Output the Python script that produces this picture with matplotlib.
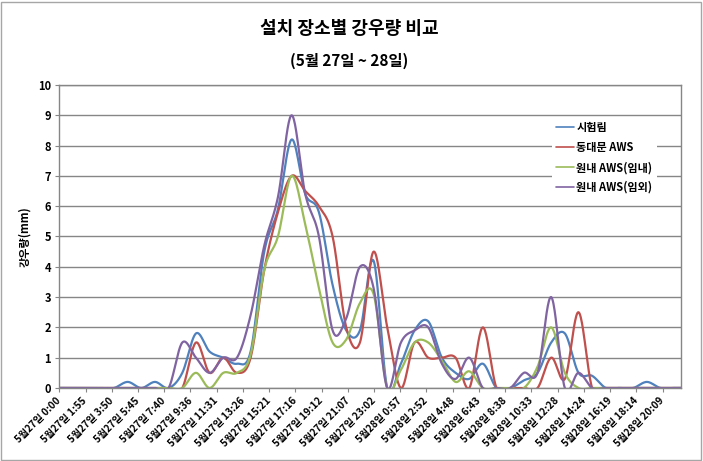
import numpy as np
import matplotlib
matplotlib.use("Agg")
import matplotlib.pyplot as plt
from matplotlib.patches import Rectangle

plt.rcParams["font.family"] = ["Noto Sans CJK KR", "DejaVu Sans"]

# ── data (hourly rainfall, mm) ──
hours = np.arange(47)

series_names = ["시험림", "동대문 AWS", "원내 AWS(임내)", "원내 AWS(임외)"]
series_colors = ["#4F81BD", "#C0504D", "#9BBB59", "#8064A2"]

rain_forest = [0, 0, 0, 0, 0, 0.2, 0, 0.2, 0, 0.5,
               1.8, 1.2, 1.0, 0.8, 1.2, 4.5, 5.9, 8.2, 6.4, 5.8,
               3.4, 1.9, 1.9, 4.2, 0, 0.8, 1.9, 2.2, 1.0, 0.5,
               0.3, 0.8, 0, 0, 0.25, 0.5, 1.5, 1.8, 0.5, 0.4,
               0, 0, 0, 0.2, 0, 0, 0]
rain_dongdaemun = [0, 0, 0, 0, 0, 0, 0, 0, 0, 0,
                   1.5, 0.5, 1.0, 0.5, 1.0, 3.9, 5.8, 7.0, 6.5, 6.0,
                   5.0, 2.0, 1.5, 4.5, 2.0, 0, 1.5, 1.0, 1.0, 1.0,
                   0, 2.0, 0, 0, 0, 0, 1.0, 0.3, 2.5, 0,
                   0, 0, 0, 0, 0, 0, 0]
rain_inner = [0, 0, 0, 0, 0, 0, 0, 0, 0, 0,
              0.5, 0, 0.5, 0.5, 1.1, 3.9, 5.0, 7.0, 5.4, 3.3,
              1.5, 1.6, 2.8, 3.1, 0, 0.6, 1.5, 1.5, 0.9, 0.2,
              0.55, 0, 0, 0, 0, 0.7, 2.0, 0.5, 0, 0,
              0, 0, 0, 0, 0, 0, 0]
rain_outer = [0, 0, 0, 0, 0, 0, 0, 0, 0, 1.5,
              1.0, 0.5, 1.0, 1.0, 2.4, 4.7, 6.3, 9.0, 6.4, 5.0,
              1.9, 2.3, 4.0, 3.3, 0, 1.5, 1.9, 2.0, 0.8, 0.3,
              1.0, 0, 0, 0, 0.5, 0.5, 3.0, 0, 0.5, 0,
              0, 0, 0, 0, 0, 0, 0]

tick_labels = ["5월27일 0:00", "5월27일 1:55", "5월27일 3:50", "5월27일 5:45",
               "5월27일 7:40", "5월27일 9:36", "5월27일 11:31", "5월27일 13:26",
               "5월27일 15:21", "5월27일 17:16", "5월27일 19:12", "5월27일 21:07",
               "5월27일 23:02", "5월28일 0:57", "5월28일 2:52", "5월28일 4:48",
               "5월28일 6:43", "5월28일 8:38", "5월28일 10:33", "5월28일 12:28",
               "5월28일 14:24", "5월28일 16:19", "5월28일 18:14", "5월28일 20:09"]


def label_to_hours(lbl):
    day_part, time_part = lbl.split(" ")
    day = int(day_part.split("월")[1].replace("일", ""))
    hh, mm = time_part.split(":")
    return (day - 27) * 24 + int(hh) + int(mm) / 60.0


def smooth_line(x, y, n=24):
    # Excel-like smoothed line (Catmull-Rom bezier)
    x = np.asarray(x, float)
    y = np.asarray(y, float)
    px = np.concatenate([[x[0]], x, [x[-1]]])
    py = np.concatenate([[y[0]], y, [y[-1]]])
    t = np.linspace(0, 1, n, endpoint=False)
    xs, ys = [], []
    for i in range(1, len(px) - 2):
        x0, x1, x2, x3 = px[i - 1], px[i], px[i + 1], px[i + 2]
        y0, y1, y2, y3 = py[i - 1], py[i], py[i + 1], py[i + 2]
        cx1, cy1 = x1 + (x2 - x0) / 6, y1 + (y2 - y0) / 6
        cx2, cy2 = x2 - (x3 - x1) / 6, y2 - (y3 - y1) / 6
        b0 = (1 - t) ** 3
        b1 = 3 * (1 - t) ** 2 * t
        b2 = 3 * (1 - t) * t ** 2
        b3 = t ** 3
        xs.append(b0 * x1 + b1 * cx1 + b2 * cx2 + b3 * x2)
        ys.append(b0 * y1 + b1 * cy1 + b2 * cy2 + b3 * y2)
    xs.append([x[-1]])
    ys.append([y[-1]])
    return np.concatenate(xs), np.concatenate(ys)


fig = plt.figure(figsize=(7.03, 4.61), dpi=100)
ax = fig.add_axes([0.0844, 0.1584, 0.8843, 0.6572])

grid_col = "#868686"
all_series = [rain_forest, rain_dongdaemun, rain_inner, rain_outer]
for name, vals, col in zip(series_names, all_series, series_colors):
    sx, sy = smooth_line(hours, vals)
    ax.plot(sx, sy, color=col, lw=1.6, label=name, solid_capstyle="round")

ax.set_xlim(0, 45.5)
ax.set_ylim(0, 10)
ax.set_yticks(range(0, 11))
ax.tick_params(axis="y", labelsize=8, length=3, color=grid_col, pad=3)
for lb in ax.get_yticklabels():
    lb.set_fontweight("bold")

tick_pos = [label_to_hours(l) for l in tick_labels]
ax.set_xticks(tick_pos)
ax.set_xticklabels(tick_labels, rotation=45, ha="right", va="center",
                   rotation_mode="anchor", fontsize=7.2, fontweight="bold")
ax.tick_params(axis="x", length=3, color=grid_col, pad=5)

ax.yaxis.grid(True, color=grid_col, lw=1)
ax.set_axisbelow(True)
for sp in ax.spines.values():
    sp.set_color(grid_col)
    sp.set_linewidth(1)

ax.set_ylabel("강우량(mm)", fontsize=8, fontweight="bold", labelpad=5)

leg = ax.legend(loc="upper left", bbox_to_anchor=(0.7925, 0.895), fontsize=8,
                frameon=True, handlelength=1.6, handletextpad=0.2,
                labelspacing=0.62, borderpad=0.4, borderaxespad=0)
leg.get_frame().set_facecolor("white")
leg.get_frame().set_edgecolor("none")
leg.get_frame().set_alpha(1)
for t in leg.get_texts():
    t.set_fontweight("bold")
for h in leg.get_lines():
    h.set_linewidth(1.2)

fig.text(0.497, 1 - 28.5 / 461, "설치 장소별 강우량 비교", ha="center", va="center",
         fontsize=13, fontweight="bold")
fig.text(0.497, 1 - 60.5 / 461, "(5월 27일 ~ 28일)", ha="center", va="center",
         fontsize=11, fontweight="bold")

fig.patches.append(Rectangle((0.002, 0.003), 0.995, 0.993, transform=fig.transFigure,
                             fill=False, ec="#A6A6A6", lw=1))

fig.savefig("out.png", dpi=100)
